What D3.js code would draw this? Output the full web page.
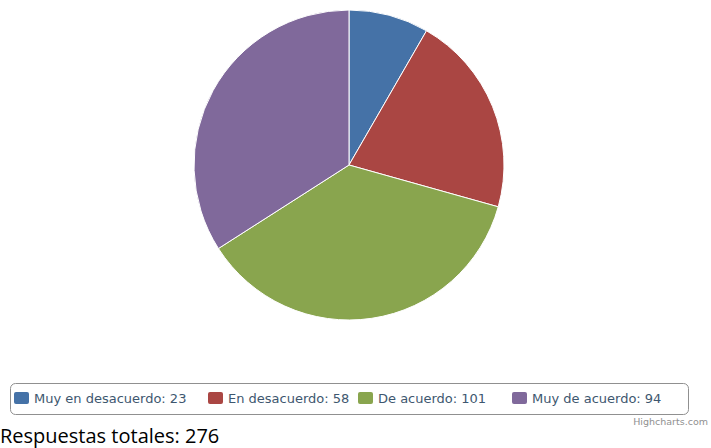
<!DOCTYPE html>
<html>
<head>
<meta charset="utf-8">
<script src="https://cdn.jsdelivr.net/npm/d3@7"></script>
<style>
  body { margin: 0; background: #fff; }
  svg { display: block; }
</style>
</head>
<body>
<script>
// data
const categories = ["Muy en desacuerdo", "En desacuerdo", "De acuerdo", "Muy de acuerdo"];
const values = [23, 58, 101, 94];
const colors = ["#4572A7", "#AA4643", "#89A54E", "#80699B"];
const totalLabel = "Respuestas totales: ";

function main() {
    const width = 711, height = 448;
    const cx = 349, cy = 165, radius = 155;

    const svg = d3.select("body").append("svg")
        .attr("width", width)
        .attr("height", height);

    const data = categories.map((c, i) => ({ name: c, value: values[i], color: colors[i] }));

    const pie = d3.pie().sort(null).value(d => d.value);
    const arc = d3.arc().innerRadius(0).outerRadius(radius);

    const pie_g = svg.append("g")
        .attr("transform", "translate(" + cx + "," + cy + ")");

    pie_g.selectAll("path")
        .data(pie(data))
        .join("path")
        .attr("d", arc)
        .attr("fill", d => d.data.color)
        .attr("stroke", "#fff")
        .attr("stroke-width", 1)
        .attr("stroke-linejoin", "round");

    // legend
    const legend_g = svg.append("g");
    legend_g.append("rect")
        .attr("x", 10.5).attr("y", 383.5)
        .attr("width", 678).attr("height", 31)
        .attr("rx", 5).attr("ry", 5)
        .attr("fill", "#fff")
        .attr("stroke", "#909090")
        .attr("stroke-width", 1);

    const itemX = [14, 208, 358, 512];
    const items = legend_g.selectAll(".item")
        .data(data)
        .join("g")
        .attr("class", "item")
        .attr("transform", (d, i) => "translate(" + itemX[i] + ",392)");

    items.append("rect")
        .attr("width", 15).attr("height", 12)
        .attr("rx", 2).attr("ry", 2)
        .attr("fill", d => d.color);

    items.append("text")
        .attr("x", 20)
        .attr("y", 11)
        .attr("font-family", "DejaVu Sans")
        .attr("font-size", "13px")
        .attr("fill", "#3E576F")
        .text(d => d.name + ": " + d.value);

    svg.append("text")
        .attr("x", 708)
        .attr("y", 425)
        .attr("text-anchor", "end")
        .attr("font-family", "DejaVu Sans")
        .attr("font-size", "9.5px")
        .attr("fill", "#909090")
        .text("Highcharts.com");

    svg.append("text")
        .attr("x", 0)
        .attr("y", 443)
        .attr("font-family", "Open Sans")
        .attr("font-size", "20px")
        .attr("fill", "#000")
        .text(totalLabel + d3.sum(values));
}
main();
</script>
</body>
</html>
